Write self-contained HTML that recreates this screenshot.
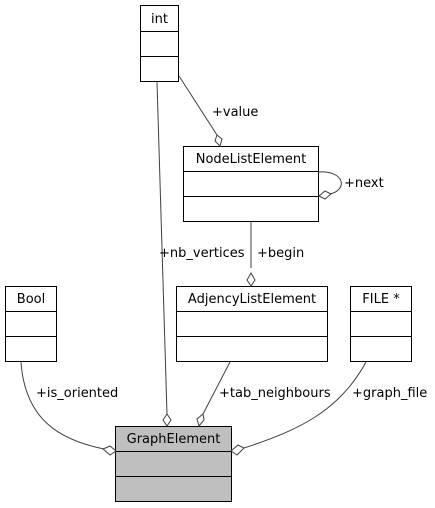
<!DOCTYPE html>
<html><head><style>
body{margin:0;background:#fff;}
svg{display:block;font-family:"DejaVu Sans","Liberation Sans",sans-serif;}
text{font-size:13px;fill:#000;}
</style></head><body>
<svg width="435" height="508" viewBox="0 0 435 508" xmlns="http://www.w3.org/2000/svg">
<g fill="#fff" stroke="#000" stroke-width="1">
<rect x="140.5" y="5.5" width="38" height="76"/>
<line x1="140.5" y1="31.5" x2="178.5" y2="31.5"/><line x1="140.5" y1="56.5" x2="178.5" y2="56.5"/>
<rect x="183.5" y="146.5" width="135" height="75"/>
<line x1="183.5" y1="171.5" x2="318.5" y2="171.5"/><line x1="183.5" y1="196.5" x2="318.5" y2="196.5"/>
<rect x="5.5" y="286.5" width="51" height="75"/>
<line x1="5.5" y1="311.5" x2="56.5" y2="311.5"/><line x1="5.5" y1="336.5" x2="56.5" y2="336.5"/>
<rect x="176.5" y="286.5" width="151" height="75"/>
<line x1="176.5" y1="311.5" x2="327.5" y2="311.5"/><line x1="176.5" y1="336.5" x2="327.5" y2="336.5"/>
<rect x="350.5" y="286.5" width="61" height="75"/>
<line x1="350.5" y1="311.5" x2="411.5" y2="311.5"/><line x1="350.5" y1="336.5" x2="411.5" y2="336.5"/>
<rect x="115.5" y="426.5" width="116" height="75" fill="#bfbfbf"/>
<line x1="115.5" y1="451.5" x2="231.5" y2="451.5"/><line x1="115.5" y1="476.5" x2="231.5" y2="476.5"/>
</g>
<g fill="none" stroke="#404040" stroke-width="1">
<path d="M157,82 L167,414"/>
<path d="M179,76 L217,135"/>
<path d="M318,172 C345,170 348,190 330,194"/>
<path d="M251,222 L251,268"/>
<path d="M230,362 L203,414"/>
<path d="M21,362 C25,420 60,440 104,449"/>
<path d="M366,362 C340,410 300,430 244,448"/>
</g>
<g fill="#fff" stroke="#404040" stroke-width="1">
<path d="M167,426 L171,420 L167,414 L163,420 Z"/>
<path d="M220,146 L222,139 L217,135 L215,141 Z"/>
<path d="M319,196 L325,199 L331,194 L325,191 Z"/>
<path d="M251,286 L255,280 L251,273 L247,280 Z"/>
<path d="M199,426 L204,420 L203,414 L197,419 Z"/>
<path d="M116,451 L110,446 L103,449 L110,455 Z"/>
<path d="M231,451 L237,455 L244,448 L238,445 Z"/>
</g>
<g text-anchor="middle">
<text x="159.5" y="23">int</text>
<text x="251" y="163">NodeListElement</text>
<text x="31" y="303">Bool</text>
<text x="252" y="303">AdjencyListElement</text>
<text x="381" y="303">FILE *</text>
<text x="173.5" y="443">GraphElement</text>
</g>
<text x="212" y="116">+value</text>
<text x="344" y="187">+next</text>
<text x="257" y="257">+begin</text>
<text x="159" y="257">+nb_vertices</text>
<text x="36" y="397">+is_oriented</text>
<text x="219" y="397">+tab_neighbours</text>
<text x="352" y="397">+graph_file</text>
</svg>
</body></html>
